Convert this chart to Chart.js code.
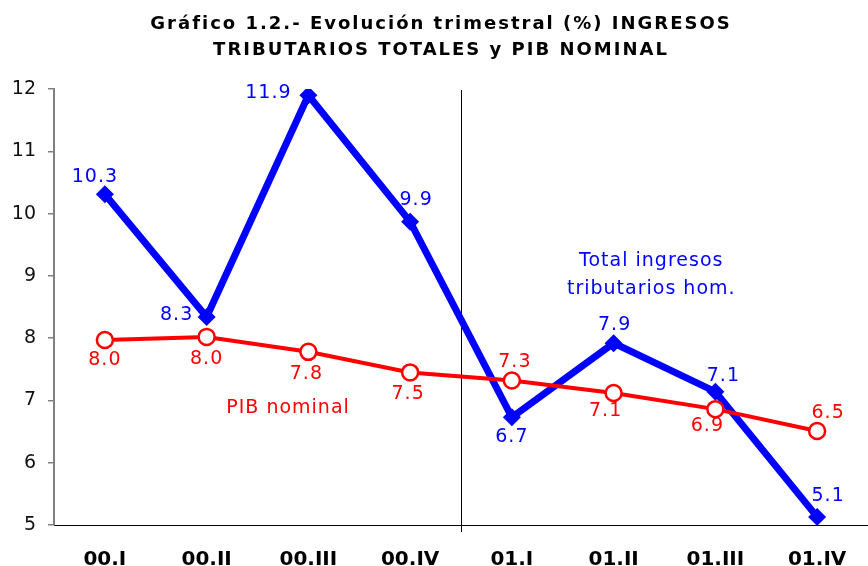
<!DOCTYPE html>
<html>
<head>
<meta charset="utf-8">
<script src="https://cdn.jsdelivr.net/npm/chart.js@4.4.0/dist/chart.umd.min.js"></script>
<style>
  html, body { margin: 0; padding: 0; background: #fff; }
  #chart { display: block; }
</style>
</head>
<body>
<canvas id="chart" width="868" height="566"></canvas>
<script>
// --- data ---
const quarters = ['00.I', '00.II', '00.III', '00.IV', '01.I', '01.II', '01.III', '01.IV'];
const ingresos = [10.31, 8.34, 11.9, 9.87, 6.73, 7.92, 7.14, 5.13];
const ingresosLabels = ['10.3', '8.3', '11.9', '9.9', '6.7', '7.9', '7.1', '5.1'];
const pib = [7.97, 8.02, 7.78, 7.45, 7.32, 7.12, 6.86, 6.51];
const pibLabels = ['8.0', '8.0', '7.8', '7.5', '7.3', '7.1', '6.9', '6.5'];
const yTicks = [5, 6, 7, 8, 9, 10, 11, 12];

const titleLines = ['Gráfico 1.2.- Evolución trimestral (%) INGRESOS', 'TRIBUTARIOS TOTALES y PIB NOMINAL'];

const FONT = "'DejaVu Sans', Verdana, sans-serif";
const BLUE = '#0000ff';
const RED = '#ff0000';

// label offsets (px) relative to each point
const ingresosOffsets = [[-10, -17], [-30, -2], [-40, -2], [6, -22], [0, 20], [1, -18], [8, -16], [11, -21]];
const pibOffsets = [[0, 20], [0, 22], [-2, 22], [-2, 22], [3, -18], [-8, 18], [-8, 17], [11, -18]];

// --- plugins ---
const titlePlugin = {
    id: 'titleText',
    afterDraw(chart) {
        const ctx = chart.ctx;
        ctx.save();
        ctx.fillStyle = '#000';
        ctx.font = 'bold 18px ' + FONT;
        ctx.letterSpacing = '2px';
        ctx.textAlign = 'center';
        ctx.textBaseline = 'alphabetic';
        ctx.fillText(titleLines[0], 441, 29);
        ctx.fillText(titleLines[1], 441, 55);
        ctx.restore();
    }
};

const dividerPlugin = {
    id: 'divider',
    beforeDatasetsDraw(chart) {
        const x = chart.scales.x.getPixelForValue(3.5);
        const ctx = chart.ctx;
        ctx.save();
        ctx.strokeStyle = '#000';
        ctx.lineWidth = 1;
        ctx.beginPath();
        ctx.moveTo(Math.round(x) + 0.5, chart.chartArea.top + 1);
        ctx.lineTo(Math.round(x) + 0.5, chart.chartArea.bottom + 7);
        ctx.stroke();
        ctx.restore();
    }
};

const labelsPlugin = {
    id: 'pointLabels',
    afterDatasetsDraw(chart) {
        const ctx = chart.ctx;
        const xs = chart.scales.x, ys = chart.scales.y;
        ctx.save();
        ctx.font = '19px ' + FONT;
        ctx.letterSpacing = '1px';
        ctx.textAlign = 'center';
        ctx.textBaseline = 'middle';

        const sets = [
            { meta: chart.getDatasetMeta(0), labels: pibLabels, offsets: pibOffsets, color: RED },
            { meta: chart.getDatasetMeta(1), labels: ingresosLabels, offsets: ingresosOffsets, color: BLUE }
        ];
        sets.forEach(s => {
            ctx.fillStyle = s.color;
            s.meta.data.forEach((pt, i) => {
                ctx.fillText(s.labels[i], pt.x + s.offsets[i][0], pt.y + s.offsets[i][1]);
            });
        });

        // series annotations
        ctx.fillStyle = RED;
        ctx.fillText('PIB nominal', xs.getPixelForValue(1.8), ys.getPixelForValue(6.88));
        ctx.fillStyle = BLUE;
        ctx.fillText('Total ingresos', xs.getPixelForValue(5.37), ys.getPixelForValue(9.24));
        ctx.fillText('tributarios hom.', xs.getPixelForValue(5.37), ys.getPixelForValue(8.79));
        ctx.restore();
    }
};

new Chart(document.getElementById('chart'), {
    type: 'line',
    data: {
        labels: quarters,
        datasets: [
            {
                label: 'PIB nominal',
                data: pib,
                order: 0,
                borderColor: RED,
                borderWidth: 4,
                pointStyle: 'circle',
                pointRadius: 8,
                pointBorderWidth: 2.5,
                pointBackgroundColor: '#fff',
                pointBorderColor: RED,
                tension: 0
            },
            {
                label: 'Total ingresos tributarios hom.',
                data: ingresos,
                order: 1,
                borderColor: BLUE,
                borderWidth: 7,
                pointStyle: 'rectRot',
                pointRadius: 9,
                pointBorderWidth: 0,
                pointBackgroundColor: BLUE,
                pointBorderColor: BLUE,
                tension: 0
            }
        ]
    },
    options: {
        responsive: false,
        animation: false,
        devicePixelRatio: 1,
        layout: { autoPadding: false, padding: { top: 89, left: 0, right: 0, bottom: 0 } },
        plugins: {
            legend: { display: false },
            title: { display: false },
            tooltip: { enabled: false }
        },
        scales: {
            x: {
                offset: true,
                grid: { display: false },
                border: { display: true, color: '#000', width: 1 },
                ticks: {
                    color: '#000',
                    padding: 15,
                    font: { family: FONT, size: 20, weight: 'bold' }
                },
                afterFit(scale) {
                    scale.height = 41;
                    scale.paddingLeft = 0;
                    scale.paddingRight = 0;
                }
            },
            y: {
                min: 5,
                max: 12,
                afterBuildTicks(scale) { scale.ticks = yTicks.map(v => ({ value: v })); },
                grid: {
                    drawOnChartArea: false,
                    drawTicks: true,
                    tickLength: 6,
                    color: '#808080',
                    lineWidth: 1.5
                },
                border: { display: true, color: '#808080', width: 2 },
                ticks: {
                    color: '#111',
                    padding: 12,
                    font: { family: FONT, size: 19 }
                },
                afterFit(scale) { scale.width = 54; }
            }
        }
    },
    plugins: [titlePlugin, dividerPlugin, labelsPlugin]
});
</script>
</body>
</html>
